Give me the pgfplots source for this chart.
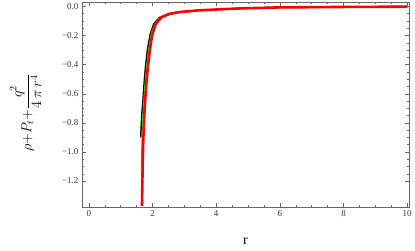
\documentclass[border=0pt]{standalone}
\usepackage{pgfplots}
\pgfplotsset{compat=1.18}
\usepackage{fontspec}
\setmainfont{Liberation Serif}
\begin{document}
\begin{tikzpicture}
\begin{axis}[
  name=ax,
  scale only axis, width=328pt, height=205pt,
  xmin=-0.22, xmax=10.06, ymin=-1.378, ymax=0.027,
  xtick={0,2,4,6,8,10},
  xticklabels={0,2,4,6,8,10},
  ytick={-1.2,-1.0,-0.8,-0.6,-0.4,-0.2,0},
  yticklabels={−1.2,−1.0,−0.8,−0.6,−0.4,−0.2,0.0},
  minor x tick num=3, minor y tick num=3,
  tick align=inside,
  major tick length=4pt, minor tick length=2pt,
  axis line style={gray!80!black},
  every tick/.style={gray!80!black},
  tick label style={font=\fontsize{9}{10}\selectfont, text=black!80},
  xlabel={r}, ylabel={$\rho{+}P_t{+}{\displaystyle\frac{q^2}{4\,\pi\, r^4}}$},
  label style={font=\fontsize{14}{15}\selectfont},
  xlabel style={at={(axis description cs:0.5,0)}, yshift=-27pt, anchor=north},
  ylabel style={at={(ticklabel cs:0.46)}},
  ylabel shift=14pt,
]
\addplot[black, line width=1.5pt] coordinates {
(1.63,-0.9)(1.66,-0.76)(1.70,-0.645)(1.74,-0.52)(1.78,-0.416)(1.84,-0.30)(1.93,-0.19)(2.04,-0.12)(2.22,-0.076)(2.5,-0.052)(2.85,-0.039)(3.48,-0.027)(4.73,-0.014)(6,-0.007)(8,-0.004)(10,-0.002)};
\addplot[green, line width=1.2pt] coordinates {
(1.65,-1.15)(1.66,-1.0)(1.68,-0.85)(1.72,-0.68)(1.76,-0.55)(1.81,-0.43)(1.87,-0.31)(1.96,-0.19)(2.07,-0.12)(2.25,-0.075)(2.52,-0.051)(2.85,-0.039)(3.48,-0.027)(4.73,-0.014)(6,-0.007)(8,-0.004)(10,-0.002)};
\addplot[red, line width=2.6pt] coordinates {
(1.67,-1.37)(1.69,-1.1)(1.71,-0.92)(1.74,-0.76)(1.77,-0.645)(1.81,-0.52)(1.855,-0.416)(1.9,-0.33)(1.95,-0.25)(2.0,-0.19)(2.1,-0.121)(2.28,-0.075)(2.54,-0.051)(2.85,-0.039)(3.48,-0.027)(4.73,-0.014)(6,-0.007)(8,-0.004)(10,-0.002)};
\end{axis}
\path ([xshift=-82pt,yshift=2pt]ax.north west) ([xshift=5pt,yshift=-44pt]ax.south east);
\end{tikzpicture}
\end{document}
